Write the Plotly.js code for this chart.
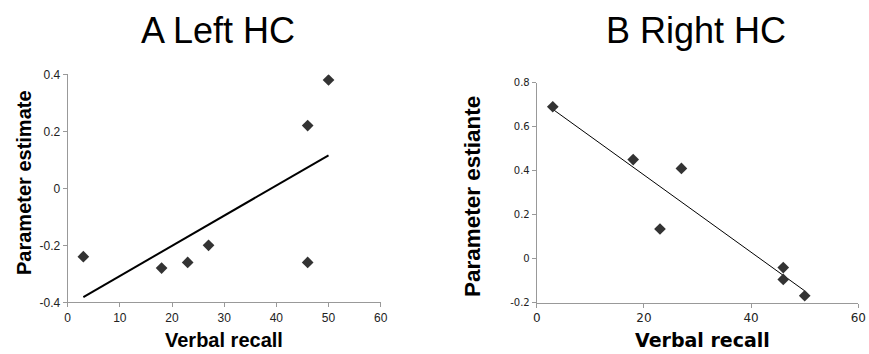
<!DOCTYPE html>
<html>
<head>
<meta charset="utf-8">
<script src="https://cdn.plot.ly/plotly-3.0.1.min.js"></script>
<style>html,body{margin:0;padding:0;background:#fff;}#chart{width:869px;height:354px;}</style>
</head>
<body>
<div id="chart"></div>
<script>
// ---- Data ----
const recallA = [3, 18, 23, 27, 46, 46, 50];
const estimateA = [-0.24, -0.28, -0.26, -0.20, 0.22, -0.26, 0.38];
const recallB = [3, 18, 23, 27, 46, 46, 50];
const estimateB = [0.69, 0.45, 0.135, 0.41, -0.04, -0.094, -0.168];

const xTicksA = [0, 10, 20, 30, 40, 50, 60];
const yTicksA = [-0.4, -0.2, 0, 0.2, 0.4];
const yTickTextA = ["-0.4", "-0.2", "0", "0.2", "0.4"];
const xTicksB = [0, 20, 40, 60];
const yTicksB = [-0.2, 0, 0.2, 0.4, 0.6, 0.8];
const yTickTextB = ["-0.2", "0", "0.2", "0.4", "0.6", "0.8"];

const titleA = "A Left HC";
const titleB = "B Right HC";
const xLabel = "Verbal recall";
const yLabelA = "Parameter estimate";
const yLabelB = "Parameter estiante";

// least-squares fit line over the data's x-range
function fit(xs, ys) {
  const n = xs.length;
  const mx = xs.reduce((a, b) => a + b, 0) / n;
  const my = ys.reduce((a, b) => a + b, 0) / n;
  let sxy = 0, sxx = 0;
  for (let i = 0; i < n; i++) { sxy += (xs[i] - mx) * (ys[i] - my); sxx += (xs[i] - mx) ** 2; }
  const b = sxy / sxx, a = my - b * mx;
  const x0 = Math.min(...xs), x1 = Math.max(...xs);
  return { x: [x0, x1], y: [a + b * x0, a + b * x1] };
}
const fitA = fit(recallA, estimateA);
const fitB = fit(recallB, estimateB);

// ---- Layout helpers (pixel -> paper) ----
const W = 869, H = 354;
const px = v => v / W;
const py = v => 1 - v / H;

const ARIAL = "Liberation Sans, Arial, sans-serif";
const WIDE = "DejaVu Sans, Verdana, sans-serif";

const traces = [
  { x: fitA.x, y: fitA.y, xaxis: 'x', yaxis: 'y', mode: 'lines', line: { color: '#000', width: 2 }, hoverinfo: 'skip' },
  { x: recallA, y: estimateA, xaxis: 'x', yaxis: 'y', mode: 'markers', marker: { symbol: 'diamond', size: 9, color: '#333' } },
  { x: fitB.x, y: fitB.y, xaxis: 'x2', yaxis: 'y2', mode: 'lines', line: { color: '#000', width: 1 }, hoverinfo: 'skip' },
  { x: recallB, y: estimateB, xaxis: 'x2', yaxis: 'y2', mode: 'markers', marker: { symbol: 'diamond', size: 9, color: '#333' } }
];

const axisCommon = {
  showgrid: false, zeroline: false, showline: true, linecolor: '#999', linewidth: 1,
  ticks: 'outside', ticklen: 4, tickcolor: '#999', tickwidth: 1, fixedrange: true
};

const layout = {
  width: W, height: H, showlegend: false,
  margin: { l: 0, r: 0, t: 0, b: 0 },
  paper_bgcolor: '#fff', plot_bgcolor: '#fff',
  xaxis: Object.assign({}, axisCommon, {
    domain: [px(67.7), px(380.7)], range: [0, 60], anchor: 'y',
    tickvals: xTicksA, ticktext: xTicksA.map(String),
    tickfont: { family: ARIAL, size: 12, color: '#222' }
  }),
  yaxis: Object.assign({}, axisCommon, {
    domain: [py(302.3), py(74.3)], range: [-0.4, 0.4], anchor: 'x',
    tickvals: yTicksA, ticktext: yTickTextA,
    tickfont: { family: ARIAL, size: 12, color: '#222' }
  }),
  xaxis2: Object.assign({}, axisCommon, {
    domain: [px(536.7), px(858.3)], range: [0, 60], anchor: 'y2',
    tickvals: xTicksB, ticktext: xTicksB.map(String),
    tickfont: { family: WIDE, size: 12, color: '#222' }
  }),
  yaxis2: Object.assign({}, axisCommon, {
    domain: [py(302.8), py(82.5)], range: [-0.2, 0.8], anchor: 'x2',
    tickvals: yTicksB, ticktext: yTickTextB,
    tickfont: { family: WIDE, size: 10, color: '#222' }
  }),
  annotations: [
    { text: titleA, xref: 'paper', yref: 'paper', x: px(217.6), y: py(30), xanchor: 'center', yanchor: 'middle', showarrow: false, font: { family: ARIAL, size: 36, color: '#000' } },
    { text: titleB, xref: 'paper', yref: 'paper', x: px(696), y: py(30), xanchor: 'center', yanchor: 'middle', showarrow: false, font: { family: ARIAL, size: 36, color: '#000' } },
    { text: '<b>' + xLabel + '</b>', xref: 'paper', yref: 'paper', x: px(224), y: py(340), xanchor: 'center', yanchor: 'middle', showarrow: false, font: { family: ARIAL, size: 20, color: '#000' } },
    { text: '<b>' + xLabel + '</b>', xref: 'paper', yref: 'paper', x: px(702), y: py(340), xanchor: 'center', yanchor: 'middle', showarrow: false, font: { family: WIDE, size: 19, color: '#000' } },
    { text: '<b>' + yLabelA + '</b>', xref: 'paper', yref: 'paper', x: px(24), y: py(183), xanchor: 'center', yanchor: 'middle', textangle: -90, showarrow: false, font: { family: ARIAL, size: 20, color: '#000' } },
    { text: '<b>' + yLabelB + '</b>', xref: 'paper', yref: 'paper', x: px(472), y: py(196), xanchor: 'center', yanchor: 'middle', textangle: -90, showarrow: false, font: { family: ARIAL, size: 22.5, color: '#000' } }
  ]
};

Plotly.newPlot('chart', traces, layout, { displayModeBar: false, staticPlot: true });
</script>
</body>
</html>
